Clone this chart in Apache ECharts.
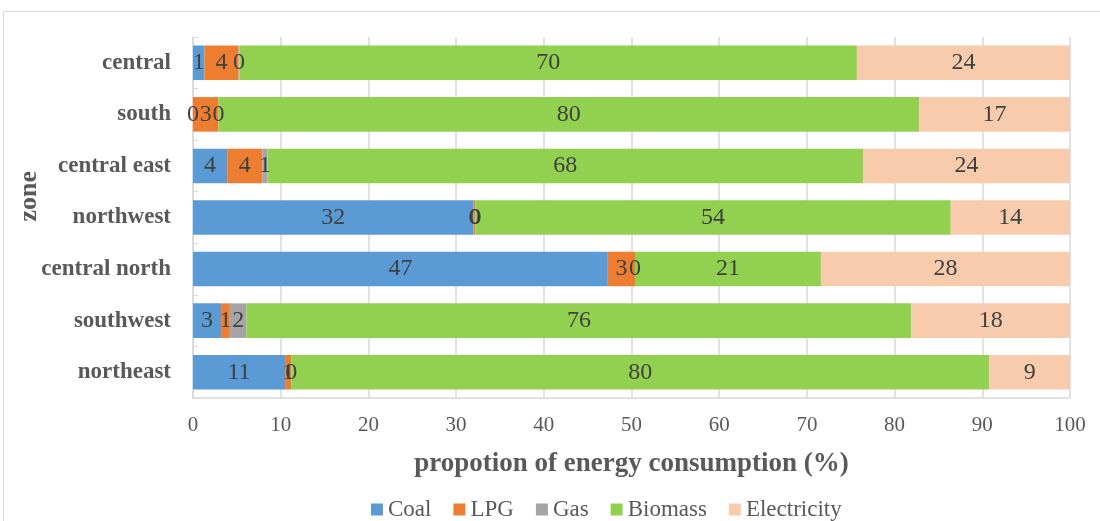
<!DOCTYPE html>
<html>
<head>
<meta charset="utf-8">
<script src="https://cdn.jsdelivr.net/npm/echarts@6/dist/echarts.min.js"></script>
<style>
	html, body { margin: 0; padding: 0; background: #fff; }
	#chart { width: 1100px; height: 521px; }
</style>
</head>
<body>
<div id="chart"></div>
<script>
	// 分区 (从下到上)
	var zones = ['northeast', 'southwest', 'central north', 'northwest', 'central east', 'south', 'central'];

	// 各能源占比 (%)
	var coal = [10.5, 3.2, 47.3, 32.0, 3.9, 0, 1.3];
	var lpg = [0.7, 1.0, 3.1, 0.2, 4.0, 2.9, 3.9];
	var gas = [0, 1.9, 0, 0, 0.6, 0, 0.1];
	var biomass = [79.6, 75.8, 21.2, 54.2, 67.9, 79.9, 70.4];
	var electricity = [9.2, 18.1, 28.4, 13.6, 23.6, 17.2, 24.3];

	var xTicks = [0, 10, 20, 30, 40, 50, 60, 70, 80, 90, 100];

	var serif = '"Liberation Serif", "Times New Roman", serif';

	function bar(name, data, color) {
		return {
			name: name,
			type: 'bar',
			stack: 'total',
			data: data,
			barCategoryGap: '33%',
			itemStyle: {
				color: color
			},
			label: {
				show: true,
				position: 'inside',
				color: '#404040',
				fontFamily: serif,
				fontSize: 24,
				formatter: function (p) {
					return Math.round(p.value);
				}
			}
		};
	}

	var chart = echarts.init(document.getElementById('chart'));

	chart.setOption({
		animation: false,
		textStyle: {
			fontFamily: serif
		},
		//外框
		graphic: [
			{
				type: 'rect',
				shape: { x: 3.5, y: 11.5, width: 1200, height: 600 },
				style: { fill: 'none', stroke: '#d9d9d9', lineWidth: 1 },
				silent: true
			},
			{
				type: 'text',
				left: 16,
				top: 171,
				rotation: Math.PI / 2,
				style: {
					text: 'zone',
					fill: '#595959',
					font: 'bold 26px ' + serif
				}
			}
		],
		//网格
		grid: {
			left: 193,
			right: 30,
			top: 37,
			bottom: 123
		},
		//图例
		legend: {
			left: 366,
			top: 493,
			itemWidth: 12,
			itemHeight: 12,
			itemGap: 22,
			icon: 'rect',
			textStyle: {
				color: '#595959',
				fontFamily: serif,
				fontSize: 23
			},
			data: ['Coal', 'LPG', 'Gas', 'Biomass', 'Electricity']
		},
		//x轴
		xAxis: {
			type: 'value',
			min: xTicks[0],
			max: xTicks[xTicks.length - 1],
			interval: 10,
			name: 'propotion of energy consumption (%)',
			nameLocation: 'middle',
			nameGap: 53,
			nameTextStyle: {
				color: '#595959',
				fontFamily: serif,
				fontSize: 27,
				fontWeight: 'bold'
			},
			axisLine: {
				show: true,
				lineStyle: { color: '#d9d9d9', width: 1.5 }
			},
			axisTick: { show: false },
			splitLine: {
				show: true,
				lineStyle: { color: '#d9d9d9', width: 1.5 }
			},
			axisLabel: {
				color: '#595959',
				fontFamily: serif,
				fontSize: 21,
				margin: 17
			}
		},
		//y轴
		yAxis: {
			type: 'category',
			data: zones,
			axisLine: {
				show: true,
				lineStyle: { color: '#d9d9d9', width: 1.5 }
			},
			axisTick: {
				show: true,
				inside: true,
				length: 5,
				lineStyle: { color: '#d9d9d9' }
			},
			axisLabel: {
				color: '#595959',
				fontFamily: serif,
				fontSize: 23,
				fontWeight: 'bold',
				margin: 22
			}
		},
		series: [
			bar('Coal', coal, '#5b9bd5'),
			bar('LPG', lpg, '#ed7d31'),
			bar('Gas', gas, '#a5a5a5'),
			bar('Biomass', biomass, '#92d050'),
			bar('Electricity', electricity, '#f8cbad')
		]
	});
</script>
</body>
</html>
